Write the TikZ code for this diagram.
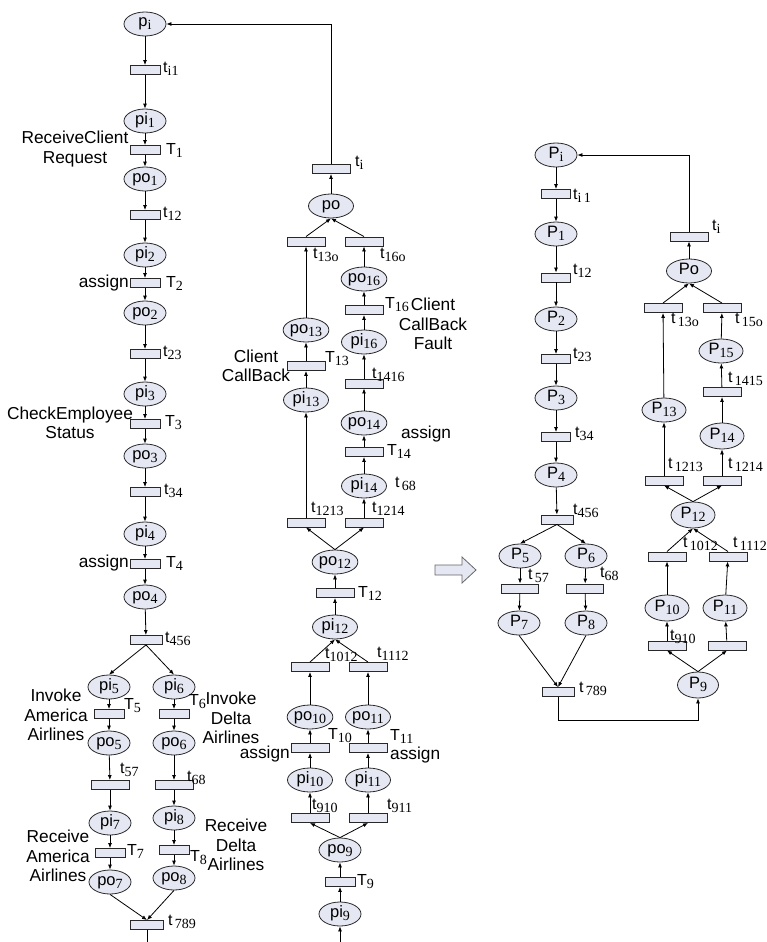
\documentclass[tikz,border=0pt]{standalone}
\usepackage{fontspec}
\setmainfont{Liberation Sans}
\newfontfamily\subserif{Liberation Serif}
\usetikzlibrary{arrows.meta,shapes.geometric}

\definecolor{placefill}{RGB}{229,231,242}
\definecolor{edgegray}{RGB}{40,40,40}

% subscripts in serif, for places and for transition labels
\newcommand{\psub}[1]{\raisebox{-3pt}{\subserif\fontsize{14}{14}\selectfont #1}}
\newcommand{\tsub}[1]{\raisebox{-3pt}{\subserif\fontsize{14}{14}\selectfont #1}}

\tikzset{
  place/.style={ellipse, draw=edgegray, fill=placefill, line width=0.8pt,
    minimum width=42pt, minimum height=24pt, inner sep=0pt,
    text height=9pt, text depth=3pt, font=\fontsize{16.5}{16.5}\selectfont},
  wplace/.style={place, minimum width=45pt},
  trans/.style={rectangle, draw=edgegray, fill=placefill, line width=0.9pt,
    minimum width=30pt, minimum height=9pt, inner sep=0pt},
  wtrans/.style={trans, minimum width=38pt},
  tlab/.style={anchor=west, inner sep=0pt, font=\fontsize{16}{16}\selectfont},
  desc/.style={align=center, inner sep=0pt, font=\fontsize{17.3}{19.5}\selectfont},
  arc/.style={-{Latex[length=5pt,width=4pt]}, line width=0.8pt, draw=black},
  line/.style={line width=0.8pt, draw=black},
}

\begin{document}
\begin{tikzpicture}[x=1pt,y=-1pt]
\useasboundingbox (0,0) rectangle (766,942);

% ---------------- left net: BPEL process ----------------
\node[place] (pi) at (145,24) {p\psub{i}};
\node[trans] (ti1) at (145,70) {};
\node[place] (pi1) at (145,121) {pi\psub{1}};
\node[trans] (T1) at (145,150) {};
\node[place] (po1) at (145,179) {po\psub{1}};
\node[trans] (t12) at (145,215) {};
\node[place] (pi2) at (145,255) {pi\psub{2}};
\node[trans] (T2) at (145,283) {};
\node[place] (po2) at (145,313) {po\psub{2}};
\node[trans] (t23) at (145,354) {};
\node[place] (pi3) at (145,394) {pi\psub{3}};
\node[trans] (T3) at (145,424) {};
\node[place] (po3) at (145,456) {po\psub{3}};
\node[trans] (t34) at (145,492) {};
\node[place] (pi4) at (145,534) {pi\psub{4}};
\node[trans] (T4) at (145,564) {};
\node[place] (po4) at (145,597) {po\psub{4}};
\node[trans, minimum width=32pt] (t456) at (146,640) {};
\node[place] (pi5) at (109,687) {pi\psub{5}};
\node[place] (pi6) at (174,687) {pi\psub{6}};
\node[trans] (T5) at (109,714) {};
\node[trans] (T6) at (174,714) {};
\node[place] (po5) at (109,743) {po\psub{5}};
\node[place] (po6) at (174,743) {po\psub{6}};
\node[wtrans] (t57) at (110,785) {};
\node[wtrans] (t68) at (174,785) {};
\node[place] (pi7) at (110,823) {pi\psub{7}};
\node[place] (pi8) at (174,818) {pi\psub{8}};
\node[trans] (T7) at (110,853) {};
\node[trans] (T8) at (174,850) {};
\node[place] (po7) at (110,882) {po\psub{7}};
\node[place] (po8) at (174,878) {po\psub{8}};
\node[trans, minimum width=33pt] (t789) at (147,925) {};
\coordinate (lbot) at (147,942);

% labels of the left net
\node[tlab] at (163,69) {t\tsub{i1}};
\node[tlab] at (166,150) {T\tsub{1}};
\node[tlab] at (163,214) {t\tsub{12}};
\node[tlab] at (166,283) {T\tsub{2}};
\node[tlab] at (163,353) {t\tsub{23}};
\node[tlab] at (165,423) {T\tsub{3}};
\node[tlab] at (164,491) {t\tsub{34}};
\node[tlab] at (166,563) {T\tsub{4}};
\node[tlab] at (165,639) {t\tsub{456}};
\node[tlab] at (124,706) {T\tsub{5}};
\node[tlab] at (189,702) {T\tsub{6}};
\node[tlab] at (120,770) {t\tsub{57}};
\node[tlab] at (187,778) {t\tsub{68}};
\node[tlab] at (127,851) {T\tsub{7}};
\node[tlab] at (190,858) {T\tsub{8}};
\node[tlab] at (168,922) {t\tsub{\,789}};

\node[desc] at (75,149) {ReceiveClient\\Request};
\node[desc, anchor=east] at (129,283) {assign};
\node[desc] at (70,423) {CheckEmployee\\Status};
\node[desc, anchor=east] at (129,563) {assign};
\node[desc] at (56,715) {Invoke\\America\\Airlines};
\node[desc] at (231,718) {Invoke\\Delta\\Airlines};
\node[desc] at (58,856) {Receive\\America\\Airlines};
\node[desc] at (236,845) {Receive\\Delta\\Airlines};

% ---------------- middle net: reversed flow ----------------
\node[wtrans] (ti) at (331,169) {};
\node[wplace] (po) at (331,206) {po};
\node[wtrans] (t13o) at (306,241.5) {};
\node[wtrans] (t16o) at (364,241.5) {};
\node[wplace] (po16) at (364,279) {po\psub{16}};
\node[wtrans] (T16) at (364,310) {};
\node[wplace] (pi16) at (364,342) {pi\psub{16}};
\node[wtrans] (t1416) at (364,383.5) {};
\node[wplace] (po14) at (364,423) {po\psub{14}};
\node[wtrans] (T14) at (364,452) {};
\node[wplace] (pi14) at (364,486) {pi\psub{14}};
\node[wplace] (po13) at (306,330) {po\psub{13}};
\node[wtrans] (T13) at (306,366) {};
\node[wplace] (pi13) at (306,400) {pi\psub{13}};
\node[wtrans] (t1213) at (306,522.5) {};
\node[wtrans] (t1214) at (364,522.5) {};
\node[wplace] (po12) at (335,562) {po\psub{12}};
\node[wtrans] (T12) at (335,593) {};
\node[wplace] (pi12) at (335,627) {pi\psub{12}};
\node[wtrans] (t1012) at (310,667) {};
\node[wtrans] (t1112) at (368,667) {};
\node[wplace] (po10) at (310,717) {po\psub{10}};
\node[wplace] (po11) at (368,717) {po\psub{11}};
\node[wtrans] (T10) at (310,748) {};
\node[wtrans] (T11) at (368,748) {};
\node[wplace] (pi10) at (310,780) {pi\psub{10}};
\node[wplace] (pi11) at (368,780) {pi\psub{11}};
\node[wtrans] (t910) at (310,818) {};
\node[wtrans] (t911) at (368,818) {};
\node[place] (po9) at (340,850) {po\psub{9}};
\node[trans] (T9) at (340,882) {};
\node[place] (pi9) at (340,914) {pi\psub{9}};
\coordinate (mbot) at (340,942);

% labels of the middle net
\node[tlab] at (355,163) {t\tsub{i}};
\node[tlab] at (313,255) {t\tsub{13o}};
\node[tlab] at (380,255) {t\tsub{16o}};
\node[tlab] at (385,305) {T\tsub{16}};
\node[tlab] at (372,375) {t\tsub{1416}};
\node[tlab] at (325,359) {T\tsub{13}};
\node[tlab] at (387,451) {T\tsub{14}};
\node[tlab] at (395,484) {t\tsub{\,68}};
\node[tlab] at (311,509) {t\tsub{1213}};
\node[tlab] at (372,509) {t\tsub{1214}};
\node[tlab] at (358,593) {T\tsub{12}};
\node[tlab] at (325,655) {t\tsub{1012}};
\node[tlab] at (377,654) {t\tsub{1112}};
\node[tlab] at (328,736) {T\tsub{10}};
\node[tlab] at (390,736) {T\tsub{11}};
\node[tlab] at (312,806) {t\tsub{910}};
\node[tlab] at (387,806) {t\tsub{911}};
\node[tlab] at (357,882) {T\tsub{9}};

\node[desc] at (433,324) {Client\\CallBack\\Fault};
\node[desc] at (256,366) {Client\\CallBack};
\node[desc] at (426,434) {assign};
\node[desc, anchor=east] at (290,754) {assign};
\node[desc, anchor=west] at (390,755) {assign};

% ---------------- transformation arrow ----------------
\draw[draw=gray!80!black, fill=placefill, line width=0.8pt]
  (435,565) -- (462,565) -- (462,557) -- (476,570) -- (462,583) -- (462,575) -- (435,575) -- cycle;

% ---------------- right net: reduced model ----------------
\node[place] (Pi) at (556,155) {P\psub{i}};
\node[trans, minimum width=29pt] (rti1) at (556,194) {};
\node[place] (P1) at (556,234) {P\psub{1}};
\node[trans, minimum width=29pt] (rt12) at (556,277.5) {};
\node[place] (P2) at (556,319) {P\psub{2}};
\node[trans, minimum width=29pt] (rt23) at (556,359) {};
\node[place] (P3) at (556,398) {P\psub{3}};
\node[trans, minimum width=29pt] (rt34) at (556,437) {};
\node[place] (P4) at (556,475) {P\psub{4}};
\node[trans, minimum width=32pt] (rt456) at (557,519.5) {};
\node[place] (P5) at (520,556) {P\psub{5}};
\node[place] (P6) at (586,556) {P\psub{6}};
\node[trans, minimum width=37pt] (rt57) at (520,588.5) {};
\node[trans, minimum width=37pt] (rt68) at (585,588.5) {};
\node[place] (P7) at (519,623) {P\psub{7}};
\node[place] (P8) at (586,623) {P\psub{8}};
\node[trans, minimum width=32pt] (rt789) at (558,692) {};
\node[place, minimum width=41pt, minimum height=26pt] (P9) at (698,685) {P\psub{9}};
\node[wtrans] (rt910) at (667,645.5) {};
\node[wtrans] (rt911) at (727,645.5) {};
\node[place, minimum width=44pt, minimum height=26pt] (P10) at (667,608) {P\psub{10}};
\node[place, minimum width=44pt, minimum height=26pt] (P11) at (725,608) {P\psub{11}};
\node[wtrans] (rt1012) at (667,556.5) {};
\node[wtrans] (rt1112) at (728,556.5) {};
\node[place, minimum width=44pt, minimum height=26pt] (P12) at (693,515) {P\psub{12}};
\node[wtrans] (rt1213) at (664,480.5) {};
\node[wtrans] (rt1214) at (722,480.5) {};
\node[place, minimum width=44pt] (P13) at (664,410) {P\psub{13}};
\node[place, minimum width=44pt, minimum height=26pt] (P14) at (722,436) {P\psub{14}};
\node[wtrans] (rt1415) at (722,392) {};
\node[place, minimum width=44pt] (P15) at (721,351) {P\psub{15}};
\node[wtrans] (rt13o) at (663,308) {};
\node[wtrans] (rt15o) at (722,308) {};
\node[place, minimum width=45pt] (Po) at (689,271) {Po};
\node[wtrans] (rti) at (689,236.5) {};

% labels of the right net
\node[tlab] at (573,196) {t\tsub{i\,1}};
\node[tlab] at (573,271) {t\tsub{12}};
\node[tlab] at (573,355) {t\tsub{23}};
\node[tlab] at (575,434) {t\tsub{34}};
\node[tlab] at (573,511) {t\tsub{456}};
\node[tlab] at (528,576) {t\tsub{\,57}};
\node[tlab] at (600,574) {t\tsub{68}};
\node[tlab] at (579,689) {t\tsub{\,789}};
\node[tlab] at (712,227) {t\tsub{i}};
\node[tlab] at (671,320) {t\tsub{\,13o}};
\node[tlab] at (735,320) {t\tsub{\,15o}};
\node[tlab] at (728,379) {t\tsub{\,1415}};
\node[tlab] at (668,465) {t\tsub{\,1213}};
\node[tlab] at (728,465) {t\tsub{\,1214}};
\node[tlab] at (683,544) {t\tsub{\,1012}};
\node[tlab] at (733,544) {t\tsub{\,1112}};
\node[tlab] at (670,637) {t\tsub{910}};

% ---------------- arcs: left net ----------------
\foreach \a/\b in {pi/ti1, ti1/pi1, pi1/T1, T1/po1, po1/t12, t12/pi2, pi2/T2, T2/po2,
  po2/t23, t23/pi3, pi3/T3, T3/po3, po3/t34, t34/pi4, pi4/T4, T4/po4, po4/t456,
  pi5/T5, T5/po5, po5/t57, t57/pi7, pi7/T7, T7/po7,
  pi6/T6, T6/po6, po6/t68, t68/pi8, pi8/T8, T8/po8}
  \draw[arc] (\a) -- (\b);
\draw[arc] (t456.south) -- (pi5.north);
\draw[arc] (t456.south) -- (pi6.north);
\draw[arc] (po7.south) -- (t789.north);
\draw[arc] (po8.south) -- (t789.north);
\draw[line] (t789.south) -- (lbot);

% ---------------- arcs: middle net ----------------
\draw[arc] (ti.north) |- (pi.east);
\foreach \a/\b in {po/ti, po13/t13o, T13/po13, pi13/T13, t1213/pi13,
  po16/t16o, T16/po16, pi16/T16, t1416/pi16, po14/t1416, T14/po14, pi14/T14, t1214/pi14,
  T12/po12, pi12/T12, po10/t1012, T10/po10, pi10/T10, t910/pi10,
  po11/t1112, T11/po11, pi11/T11, t911/pi11, T9/po9, pi9/T9, mbot/pi9}
  \draw[arc] (\a) -- (\b);
\draw[arc] (t13o.north) -- (po.south);
\draw[arc] (t16o.north) -- (po.south);
\draw[arc] (po12.north) -- (t1213.south);
\draw[arc] (po12.north) -- (t1214.south);
\draw[arc] (t1012.north) -- (pi12.south);
\draw[arc] (t1112.north) -- (pi12.south);
\draw[arc] (po9.north) -- (t910.south);
\draw[arc] (po9.north) -- (t911.south);

% ---------------- arcs: right net ----------------
\foreach \a/\b in {Pi/rti1, rti1/P1, P1/rt12, rt12/P2, P2/rt23, rt23/P3, P3/rt34, rt34/P4,
  P4/rt456, P5/rt57, rt57/P7, P6/rt68, rt68/P8,
  rt910/P10, P10/rt1012, rt911/P11, P11/rt1112,
  rt1213/P13, P13/rt13o, rt1214/P14, P14/rt1415, rt1415/P15, P15/rt15o, Po/rti}
  \draw[arc] (\a) -- (\b);
\draw[arc] (rt456.south) -- (P5.north);
\draw[arc] (rt456.south) -- (P6.north);
\draw[arc] (P7.south) -- (rt789.north);
\draw[arc] (P8.south) -- (rt789.north);
\draw[arc] (rt789.south) -- ++(0,23) -| (P9.south);
\draw[arc] (P9.north) -- (rt910.south);
\draw[arc] (P9.north) -- (rt911.south);
\draw[arc] (rt1012.north) -- (P12.south);
\draw[arc] (rt1112.north) -- (P12.south);
\draw[arc] (P12.north) -- (rt1213.south);
\draw[arc] (P12.north) -- (rt1214.south);
\draw[arc] (rt13o.north) -- (Po.south);
\draw[arc] (rt15o.north) -- (Po.south);
\draw[arc] (rti.north) |- (Pi.east);
\end{tikzpicture}
\end{document}
